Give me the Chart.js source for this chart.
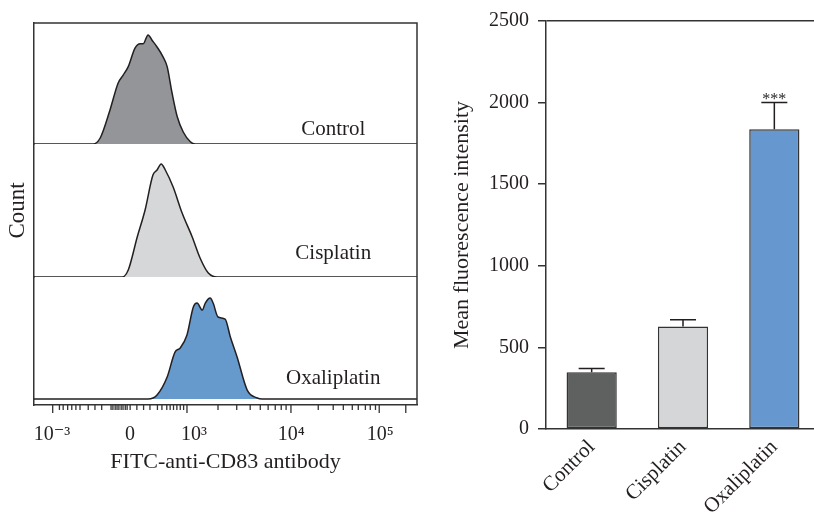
<!DOCTYPE html>
<html><head><meta charset="utf-8">
<script src="https://cdn.jsdelivr.net/npm/chart.js@4.4.1/dist/chart.umd.min.js"></script>
<style>
html,body{margin:0;padding:0;background:#fff;overflow:hidden;width:814px;height:517px;}
#left{position:absolute;left:0;top:0;}
#right{position:absolute;left:440px;top:0;}
</style></head><body>
<canvas id="left" width="440" height="517"></canvas>
<canvas id="right" width="380" height="517"></canvas>
<script>
// ---------- Flow cytometry histograms (x = display channel 0–1024, y = % of max) ----------
const histLabels = ['Control', 'Cisplatin', 'Oxaliplatin'];
const controlX = [0, 158, 177, 203, 225, 238, 252, 270, 284, 292, 305, 316, 329, 345, 356, 369, 383, 399, 418, 431, 1024];
const controlY = [0, 0, 5.5, 31, 56, 63, 71, 88, 92, 92, 100, 95, 89, 80, 71, 47, 25, 11, 2, 0, 0];
const cisplatinX = [0, 236, 252, 276, 297, 318, 329, 340, 351, 372, 396, 423, 444, 466, 490, 1024];
const cisplatinY = [0, 0, 6.2, 35.4, 59.3, 90.3, 94.7, 100, 94.7, 79.6, 56.6, 35.4, 16.8, 3.5, 0, 0];
const oxaliplatinX = [0, 305, 329, 356, 377, 391, 409, 426, 436, 450, 458, 471, 479, 492, 511, 525, 543, 570, 597, 610, 1024];
const oxaliplatinY = [0, 0, 4, 21.8, 46.5, 50.5, 63.4, 91.1, 95, 88.1, 95, 100, 95, 81.2, 79.2, 61.4, 41.6, 8.9, 1, 0, 0];

// axis ticks (display channels) and tick labels
const axisMajorTicks = [50, 409, 687, 923, 994];
const axisMinorTicks = [68, 78, 90, 101, 112, 123, 145, 163, 181, 206, 211, 217, 222, 227, 233, 238, 244, 249, 257,
  275, 293, 310, 330, 342, 355, 364, 373, 382, 391, 400, 492, 542, 578, 605, 626, 645, 661, 674,
  760, 800, 827, 851, 867, 886, 899, 913];
const axisLabelPos = [48, 257, 428, 688, 926];
const axisLabelText = ['10\u207B\u00B3', '0', '10\u00B3', '10\u2074', '10\u2075'];

// ---------- Bar chart ----------
const barCategories = ['Control', 'Cisplatin', 'Oxaliplatin'];
const barMeans = [347, 628, 1837];
const barErrors = [24, 41, 164];
const barSignif = ['', '', '***'];

// styles
const histColors = ['#939598', '#d6d7d9', '#6699cc'];
const barColors = ['#5f6060', '#d5d6d7', '#6698cf'];
const INK = '#231f20';
const LINE = '#333333';

Chart.defaults.font.family = "'Liberation Serif', 'DejaVu Serif', serif";
Chart.defaults.color = INK;
Chart.defaults.animation = false;

const toXY = (xs, ys) => xs.map((x, i) => ({x: x, y: ys[i]}));
const histSeries = [toXY(controlX, controlY), toXY(cisplatinX, cisplatinY), toXY(oxaliplatinX, oxaliplatinY)];
const axisIds = ['y1', 'y2', 'y3'];

const histPlugin = {
  id: 'histExtras',
  afterDraw(chart) {
    const {ctx, chartArea: a} = chart;
    const xs = chart.scales.x;
    ctx.save();
    // frame top and right
    ctx.strokeStyle = LINE; ctx.lineWidth = 1.5;
    ctx.beginPath();
    ctx.moveTo(a.left, a.top); ctx.lineTo(a.right, a.top); ctx.lineTo(a.right, a.bottom);
    ctx.stroke();
    // tick marks
    ctx.lineWidth = 1.3;
    ctx.beginPath();
    axisMajorTicks.forEach(v => { const p = xs.getPixelForValue(v); ctx.moveTo(p, a.bottom); ctx.lineTo(p, a.bottom + 8); });
    axisMinorTicks.forEach(v => { const p = xs.getPixelForValue(v); ctx.moveTo(p, a.bottom); ctx.lineTo(p, a.bottom + 5); });
    ctx.stroke();
    // panel labels
    const off = [9, 18, 15];
    ctx.fillStyle = INK;
    ctx.font = "21px 'Liberation Serif', 'DejaVu Serif', serif";
    ctx.textAlign = 'center'; ctx.textBaseline = 'alphabetic';
    chart.data.datasets.forEach((ds, i) => {
      const ys = chart.scales[axisIds[i]];
      ctx.fillText(ds.label, xs.getPixelForValue(800), ys.getPixelForValue(0) - off[i]);
    });
    ctx.restore();
  }
};

const panelWeights = [121, 133, 128];
const panelRanges = [[0, 111], [0, 117.7], [-5.9, 120.8]];

const yScale = (i, extra) => Object.assign({
  type: 'linear', position: 'left', stack: 'hist', stackWeight: panelWeights[i], weight: 3 - i,
  min: panelRanges[i][0], max: panelRanges[i][1],
  grid: {display: false, drawTicks: false},
  ticks: {display: false},
  border: {display: true, color: LINE, width: 1.5},
  afterFit: ax => { ax.width = 34; }
}, extra || {});

new Chart(document.getElementById('left'), {
  type: 'line',
  data: {
    datasets: histLabels.map((lab, i) => ({
      label: lab, data: histSeries[i], yAxisID: axisIds[i],
      fill: 'origin', backgroundColor: histColors[i], borderColor: INK, borderWidth: 1.5,
      pointRadius: 0, cubicInterpolationMode: 'monotone'
    }))
  },
  options: {
    responsive: false,
    layout: {padding: {top: 23, right: 23, left: 0, bottom: 0}},
    plugins: {legend: {display: false}, tooltip: {enabled: false}},
    scales: {
      x: {
        type: 'linear', position: 'bottom', min: 0, max: 1024,
        grid: {display: false, drawTicks: false},
        border: {display: true, color: LINE, width: 1.5},
        ticks: {autoSkip: false, maxRotation: 0, padding: 18, font: {size: 20},
          callback: (v, i) => axisLabelText[i]},
        afterBuildTicks: ax => { ax.ticks = axisLabelPos.map(v => ({value: v})); },
        afterFit: ax => { ax.height = 112; },
        title: {display: true, text: 'FITC-anti-CD83 antibody', font: {size: 22}, padding: {top: 0, bottom: 42}}
      },
      y1: yScale(0),
      y2: yScale(1, {title: {display: true, text: 'Count', font: {size: 23}, padding: {top: 4, bottom: 0}}}),
      y3: yScale(2)
    }
  },
  plugins: [histPlugin]
});

const errPlugin = {
  id: 'errorBars',
  afterDatasetsDraw(chart) {
    const {ctx} = chart;
    const ys = chart.scales.y;
    const meta = chart.getDatasetMeta(0);
    ctx.save();
    ctx.strokeStyle = INK; ctx.lineWidth = 1.5;
    ctx.fillStyle = INK;
    ctx.font = "16px 'Liberation Serif', 'DejaVu Serif', serif";
    ctx.textAlign = 'center'; ctx.textBaseline = 'alphabetic';
    meta.data.forEach((bar, i) => {
      const yb = ys.getPixelForValue(barMeans[i]);
      const yt = ys.getPixelForValue(barMeans[i] + barErrors[i]);
      ctx.beginPath();
      ctx.moveTo(bar.x, yb); ctx.lineTo(bar.x, yt);
      ctx.moveTo(bar.x - 13, yt); ctx.lineTo(bar.x + 13, yt);
      ctx.stroke();
      if (barSignif[i]) ctx.fillText(barSignif[i], bar.x, yt + 2);
    });
    ctx.restore();
  }
};

new Chart(document.getElementById('right'), {
  type: 'bar',
  data: {
    labels: barCategories,
    datasets: [{
      data: barMeans, backgroundColor: barColors, borderColor: LINE, borderWidth: 1.5,
      categoryPercentage: 1, barPercentage: 0.55, borderSkipped: false
    }]
  },
  options: {
    responsive: false,
    layout: {padding: {top: 18, right: 0, left: 0, bottom: 0}},
    plugins: {legend: {display: false}, tooltip: {enabled: false}},
    scales: {
      x: {
        grid: {display: false, drawTicks: false},
        border: {display: true, color: LINE, width: 1.5},
        ticks: {minRotation: 45, maxRotation: 45, padding: 6, font: {size: 21}},
        afterFit: ax => { ax.height = 88; }
      },
      y: {
        min: 0, max: 2500,
        ticks: {stepSize: 500, padding: 9, font: {size: 20}, callback: v => String(v)},
        grid: {drawOnChartArea: true, lineWidth: 1.5, tickLength: 8, tickColor: LINE, tickWidth: 1.5,
          color: c => (c.tick && c.tick.value === 2500) ? LINE : 'rgba(0,0,0,0)'},
        border: {display: true, color: LINE, width: 1.5},
        title: {display: true, text: 'Mean fluorescence intensity', font: {size: 22}, padding: {top: 9, bottom: 0}},
        afterFit: ax => { ax.width = 106; }
      }
    }
  },
  plugins: [errPlugin]
});
</script>
</body></html>
